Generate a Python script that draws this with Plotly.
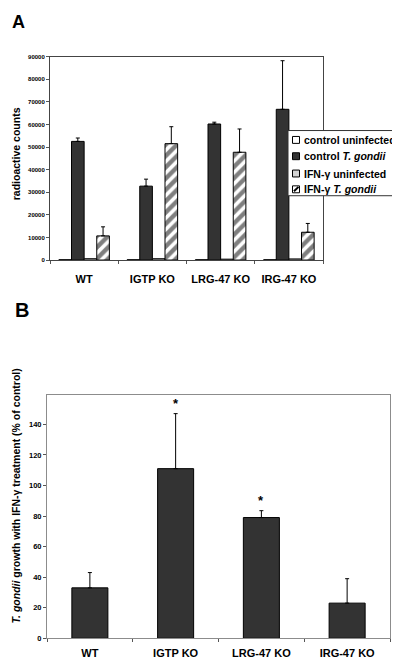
import plotly.graph_objects as go

# ---------------- data ----------------
groups = ["WT", "IGTP KO", "LRG-47 KO", "IRG-47 KO"]

series_names = ["control uninfected", "control <i>T. gondii</i>",
                "IFN-γ uninfected", "IFN-γ <i>T. gondii</i>"]
ctrl_uninf = [150, 150, 150, 150]
ctrl_tg = [52500, 32700, 60200, 66700]
ctrl_tg_err = [54000, 35800, 61000, 88200]
ifn_uninf = [600, 600, 400, 500]
ifn_tg = [10700, 51500, 47700, 12300]
ifn_tg_err = [14700, 59000, 58000, 16200]

pct_values = [33, 111, 79, 23]
pct_err_top = [43, 147, 83.5, 39]
pct_star = ["", "*", "*", ""]

yA_ticks = [0, 10000, 20000, 30000, 40000, 50000, 60000, 70000, 80000, 90000]
yB_ticks = [0, 20, 40, 60, 80, 100, 120, 140]

FONT = "Liberation Sans, Arial, sans-serif"
W, H = 400, 660

fig = go.Figure()


def err(vals, tops):
    return dict(type="data", symmetric=False,
                array=[t - v for v, t in zip(vals, tops)],
                arrayminus=[0] * len(vals),
                color="black", thickness=1, width=2)


fills = ["white", "#333333", "#d4d4d4", "white"]
styles = [
    dict(color=fills[0], line=dict(color="black", width=1)),
    dict(color=fills[1], line=dict(color="black", width=1)),
    dict(color=fills[2], line=dict(color="black", width=1)),
    dict(color=fills[3], line=dict(color="black", width=1),
         pattern=dict(shape="/", fgcolor="black", bgcolor="white",
                      size=8, solidity=0.55)),
]
vals_list = [ctrl_uninf, ctrl_tg, ifn_uninf, ifn_tg]
tops_list = [None, ctrl_tg_err, None, ifn_tg_err]
for name, v, t, st in zip(series_names, vals_list, tops_list, styles):
    fig.add_trace(go.Bar(
        x=groups, y=v, name=name, marker=st,
        error_y=err(v, t) if t is not None else None,
        xaxis="x", yaxis="y", showlegend=False,
    ))

fig.add_trace(go.Bar(
    x=groups, y=pct_values, width=0.42,
    marker=dict(color="#333333", line=dict(color="black", width=1)),
    error_y=err(pct_values, pct_err_top),
    xaxis="x2", yaxis="y2", showlegend=False,
))

# stars above error bars
for g, t, s in zip(groups, pct_err_top, pct_star):
    if s:
        fig.add_annotation(x=g, y=t, xref="x2", yref="y2", text="<b>*</b>",
                           showarrow=False, yanchor="bottom", yshift=1,
                           font=dict(family=FONT, size=13, color="black"))

axis_common = dict(showgrid=False, zeroline=False, showline=True, mirror=True,
                   ticks="outside", ticklen=3, tickcolor="#555555", tickangle=0)

fig.update_layout(
    width=W, height=H,
    margin=dict(l=0, r=0, t=0, b=0),
    paper_bgcolor="white", plot_bgcolor="white",
    barmode="group", bargap=0.26, bargroupgap=0,
    font=dict(family=FONT, color="black"),
    showlegend=False,
    xaxis=dict(domain=[0.105, 0.7875], anchor="y", tickson="boundaries",
               linecolor="#444444", linewidth=1, ticklabelstandoff=9,
               tickvals=groups, ticktext=[f"<b>{g}</b>" for g in groups],
               tickfont=dict(size=11, family=FONT), **axis_common),
    yaxis=dict(domain=[0.618, 0.930], anchor="x", range=[0, 90000],
               tickvals=yA_ticks, ticktext=[f"<b>{v}</b>" for v in yA_ticks],
               linecolor="#444444", linewidth=1,
               tickfont=dict(size=6, family=FONT), **axis_common),
    xaxis2=dict(domain=[0.0975, 0.955], anchor="y2", tickson="boundaries",
                linecolor="#8c8c8c", linewidth=1, ticklabelstandoff=5,
                tickvals=groups, ticktext=[f"<b>{g}</b>" for g in groups],
                tickfont=dict(size=11, family=FONT), **axis_common),
    yaxis2=dict(domain=[0.0379, 0.4106], anchor="x2", range=[0, 159],
                tickvals=yB_ticks, ticktext=[f"<b>{v}</b>" for v in yB_ticks],
                linecolor="#8c8c8c", linewidth=1,
                tickfont=dict(size=7.5, family=FONT), **axis_common),
)

# ---------------- legend (drawn in paper pixels) ----------------
def px(x):
    return x / W


def py(y):
    return 1 - y / H


leg_left, leg_top, leg_right, leg_bottom = 280, 121, 404, 187
fig.add_shape(type="rect", xref="paper", yref="paper",
              x0=px(leg_left), x1=px(leg_right), y0=py(leg_bottom), y1=py(leg_top),
              line=dict(color="#333333", width=1), fillcolor="white", layer="above")
row_y = [130.5, 147, 164.5, 180.5]
for i, (name, fc) in enumerate(zip(series_names, fills)):
    cy = row_y[i]
    fig.add_shape(type="rect", xref="paper", yref="paper",
                  x0=px(284.5), x1=px(291.5), y0=py(cy + 3.5), y1=py(cy - 3.5),
                  line=dict(color="black", width=1), fillcolor=fc, layer="above")
    if i == 3:
        fig.add_shape(type="line", xref="paper", yref="paper",
                      x0=px(286), x1=px(290.5), y0=py(cy + 2), y1=py(cy - 2.5),
                      line=dict(color="black", width=2), layer="above")
    fig.add_annotation(x=px(293.5), y=py(cy), xref="paper", yref="paper",
                       text=f"<b>{name}</b>", showarrow=False,
                       xanchor="left", yanchor="middle",
                       font=dict(size=10.5, family=FONT, color="black"))

# panel letters
fig.add_annotation(x=px(10.5), y=py(11), xref="paper", yref="paper", text="<b>A</b>",
                   showarrow=False, xanchor="center", yanchor="middle",
                   font=dict(size=18, family=FONT))
fig.add_annotation(x=px(14.5), y=py(302.5), xref="paper", yref="paper", text="<b>B</b>",
                   showarrow=False, xanchor="center", yanchor="middle",
                   font=dict(size=20, family=FONT))

# axis titles
fig.add_annotation(x=px(8), y=py(145), xref="paper", yref="paper",
                   text="<b>radioactive counts</b>", textangle=-90,
                   showarrow=False, xanchor="center", yanchor="middle",
                   font=dict(size=10.5, family=FONT))
fig.add_annotation(x=px(8.5), y=py(491), xref="paper", yref="paper",
                   text="<b><i>T. gondii</i> growth with IFN-γ treatment (% of control)</b>",
                   textangle=-90, showarrow=False, xanchor="center", yanchor="middle",
                   font=dict(size=10.5, family=FONT))

fig.write_html("out.html")
